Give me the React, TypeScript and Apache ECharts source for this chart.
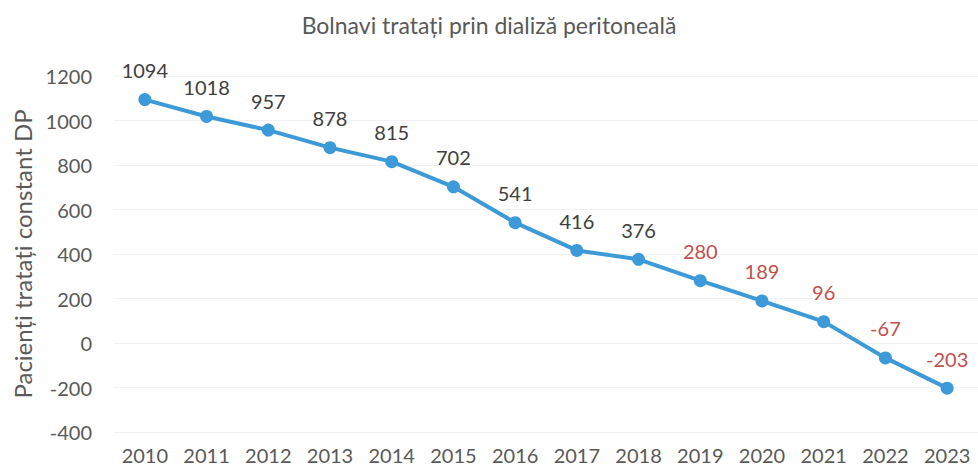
import React, { useEffect, useRef } from "react";
import * as echarts from "echarts";

const years = ["2010","2011","2012","2013","2014","2015","2016","2017","2018","2019","2020","2021","2022","2023"];
const patients = [1094, 1018, 957, 878, 815, 702, 541, 416, 376, 280, 189, 96, -67, -203];
const redFromYear = "2019";
const title = "Bolnavi tratați prin dializă peritoneală";
const yName = "Pacienți tratați constant DP";

export default function App() {
  const ref = useRef<HTMLDivElement>(null);
  useEffect(() => {
    if (!ref.current) return;
    const chart = echarts.init(ref.current, undefined, { renderer: "svg" });
    const redIdx = years.indexOf(redFromYear);
    const font = "Lato, 'Open Sans', sans-serif";
    chart.setOption({
      animation: false,
      backgroundColor: "#ffffff",
      title: {
        text: title,
        left: "center",
        top: 8,
        textStyle: { fontFamily: font, fontSize: 23, fontWeight: "normal", color: "#595959" },
      },
      grid: { left: 114, right: -3, top: 76, bottom: 38, containLabel: false },
      xAxis: {
        type: "category",
        data: years,
        boundaryGap: true,
        axisLine: { show: false },
        axisTick: { show: false },
        axisLabel: { fontFamily: font, fontSize: 20, color: "#595959", margin: 13 },
      },
      yAxis: {
        type: "value",
        min: -400,
        max: 1200,
        interval: 200,
        name: yName,
        nameLocation: "middle",
        nameGap: 80,
        nameTextStyle: { fontFamily: font, fontSize: 24, color: "#595959" },
        axisLine: { show: false },
        axisTick: { show: false },
        axisLabel: {
          fontFamily: font,
          fontSize: 20,
          color: "#595959",
          margin: 22,
          formatter: (v: number) => String(v),
        },
        splitLine: { lineStyle: { color: "#f2f2f2", width: 1 } },
      },
      series: [
        {
          type: "line",
          data: patients.map((v, i) => ({
            value: v,
            label: { color: i >= redIdx ? "#c0504d" : "#404040" },
          })),
          symbol: "circle",
          symbolSize: 13,
          lineStyle: { color: "#3d9ad8", width: 4 },
          itemStyle: { color: "#3d9ad8" },
          label: {
            show: true,
            position: "top",
            distance: 13,
            fontFamily: font,
            fontSize: 20,
          },
        },
      ],
    });
    return () => chart.dispose();
  }, []);
  return <div ref={ref} style={{ width: 978, height: 470, position: "absolute", left: 0, top: 0 }} />;
}
